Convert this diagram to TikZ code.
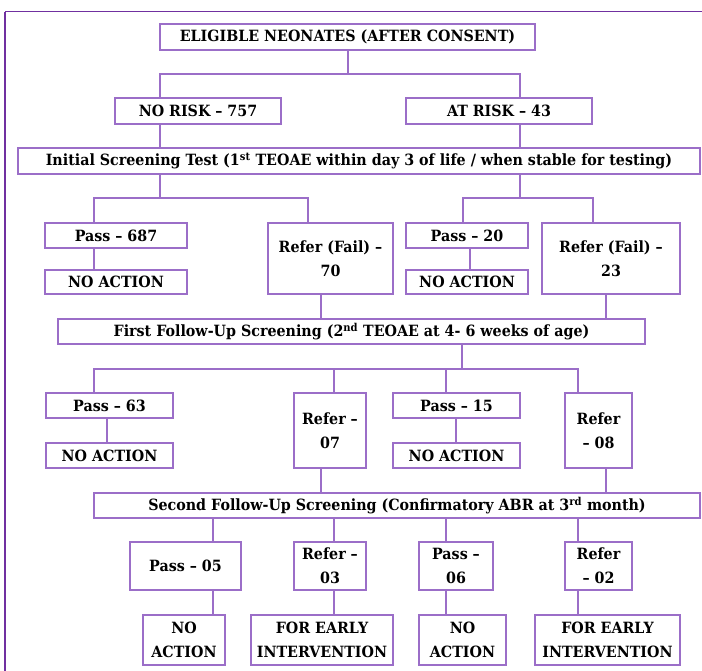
\documentclass[tikz,border=0pt]{standalone}
\usepackage{fontspec}
\setmainfont{DejaVu Serif}[FakeStretch=0.92]
\definecolor{boxc}{RGB}{155,110,200}
\definecolor{framec}{RGB}{112,48,160}
\begin{document}
\begin{tikzpicture}[x=1pt,y=-1pt,
  box/.style={draw=boxc, line width=1.3pt, fill=white, inner sep=0pt, align=center,
    font=\fontsize{15.5}{24}\selectfont\bfseries},
  conn/.style={draw=boxc, line width=1.3pt}]
\useasboundingbox (0,0) rectangle (702,671);
\draw[framec, line width=1pt] (5,12) -- (702,12);
\draw[framec, line width=2pt] (5,12) -- (5,671);
% row 1
\node[box, minimum width=375, minimum height=26] (elig) at (347.5,37) {ELIGIBLE NEONATES (AFTER CONSENT)};
\node[box, minimum width=166, minimum height=26] (norisk) at (198,111) {NO RISK – 757};
\node[box, minimum width=186, minimum height=26] (atrisk) at (499,111) {AT RISK – 43};
\node[box, minimum width=682, minimum height=26] (init) at (359,161) {Initial Screening Test (1\textsuperscript{st} TEOAE within day 3 of life / when stable for testing)};
% row 2
\node[box, minimum width=142, minimum height=25] (p687) at (116,235.5) {Pass – 687};
\node[box, minimum width=142, minimum height=24] (na1) at (116,282) {NO ACTION};
\node[box, minimum width=125, minimum height=71] (r70) at (330.5,258.5) {Refer (Fail) –\\70};
\node[box, minimum width=122, minimum height=25] (p20) at (467,235.5) {Pass – 20};
\node[box, minimum width=122, minimum height=24] (na2) at (467,282) {NO ACTION};
\node[box, minimum width=138, minimum height=71] (r23) at (611,258.5) {Refer (Fail) –\\23};
\node[box, minimum width=587, minimum height=25] (ffu) at (351.5,331.5) {First Follow-Up Screening (2\textsuperscript{nd} TEOAE at 4- 6 weeks of age)};
% row 3
\node[box, minimum width=127, minimum height=25] (p63) at (109.5,405.5) {Pass – 63};
\node[box, minimum width=127, minimum height=25] (na3) at (109.5,455.5) {NO ACTION};
\node[box, minimum width=72, minimum height=75] (r07) at (330,430.5) {Refer –\\07};
\node[box, minimum width=127, minimum height=25] (p15) at (456.5,405.5) {Pass – 15};
\node[box, minimum width=127, minimum height=25] (na4) at (456.5,455.5) {NO ACTION};
\node[box, minimum width=67, minimum height=75] (r08) at (598.5,430.5) {Refer\\– 08};
\node[box, minimum width=606, minimum height=25] (sfu) at (397,505.5) {Second Follow-Up Screening (Confirmatory ABR at 3\textsuperscript{rd} month)};
% row 4
\node[box, minimum width=111, minimum height=48] (p05) at (185.5,566) {Pass – 05};
\node[box, minimum width=72, minimum height=48] (r03) at (330,566) {Refer –\\03};
\node[box, minimum width=74, minimum height=48] (p06) at (456,566) {Pass –\\06};
\node[box, minimum width=67, minimum height=48] (r02) at (598.5,566) {Refer\\– 02};
\node[box, minimum width=82, minimum height=50] (na5) at (184,640) {NO\\ACTION};
\node[box, minimum width=142, minimum height=50] (fe1) at (322,640) {FOR EARLY\\INTERVENTION};
\node[box, minimum width=87, minimum height=50] (na6) at (462.5,640) {NO\\ACTION};
\node[box, minimum width=145, minimum height=50] (fe2) at (607.5,640) {FOR EARLY\\INTERVENTION};
% bus coordinates
\coordinate (b1l) at (160,74); \coordinate (b1r) at (520,74);
\coordinate (b2a) at (94,198); \coordinate (b2b) at (308,198);
\coordinate (b2c) at (463,198); \coordinate (b2d) at (593,198);
\coordinate (b3a) at (94,369); \coordinate (b3b) at (334,369);
\coordinate (b3c) at (446,369); \coordinate (b3d) at (578,369);
\coordinate (xa) at (470,0); \coordinate (xb) at (321,0); \coordinate (xc) at (606,0);
\coordinate (xd) at (107,0); \coordinate (xe) at (456,0); \coordinate (xf) at (462,0);
\coordinate (xg) at (213,0); \coordinate (xh) at (348,0);
% connectors
\draw[conn] (elig.south -| xh) -- (xh |- b1l);
\draw[conn] (norisk.north -| b1l) |- (b1r) -- (atrisk.north -| b1r);
\draw[conn] (norisk.south -| b1l) -- (init.north -| b1l);
\draw[conn] (atrisk.south -| b1r) -- (init.north -| b1r);
\draw[conn] (init.south -| b1l) -- (b1l |- b2a);
\draw[conn] (init.south -| b1r) -- (b1r |- b2a);
\draw[conn] (p687.north -| b2a) |- (b2b) -- (r70.north -| b2b);
\draw[conn] (p20.north -| b2c) |- (b2d) -- (r23.north -| b2d);
\draw[conn] (p687.south -| b2a) -- (na1.north -| b2a);
\draw[conn] (p20.south -| xa) -- (na2.north -| xa);
\draw[conn] (r70.south -| xb) -- (ffu.north -| xb);
\draw[conn] (r23.south -| xc) -- (ffu.north -| xc);
\draw[conn] (ffu.south -| xf) -- (xf |- b3a);
\draw[conn] (p63.north -| b3a) |- (b3d) -- (r08.north -| b3d);
\draw[conn] (b3b) -- (r07.north -| b3b);
\draw[conn] (b3c) -- (p15.north -| b3c);
\draw[conn] (p63.south -| xd) -- (na3.north -| xd);
\draw[conn] (p15.south -| xe) -- (na4.north -| xe);
\draw[conn] (r07.south -| xb) -- (sfu.north -| xb);
\draw[conn] (r08.south -| xc) -- (sfu.north -| xc);
\draw[conn] (sfu.south -| xg) -- (p05.north -| xg);
\draw[conn] (sfu.south -| b3b) -- (r03.north -| b3b);
\draw[conn] (sfu.south -| b3c) -- (p06.north -| b3c);
\draw[conn] (sfu.south -| b3d) -- (r02.north -| b3d);
\draw[conn] (p05.south -| xg) -- (na5.north -| xg);
\draw[conn] (r03.south -| b3b) -- (fe1.north -| b3b);
\draw[conn] (p06.south -| b3c) -- (na6.north -| b3c);
\draw[conn] (r02.south -| b3d) -- (fe2.north -| b3d);
\end{tikzpicture}
\end{document}
